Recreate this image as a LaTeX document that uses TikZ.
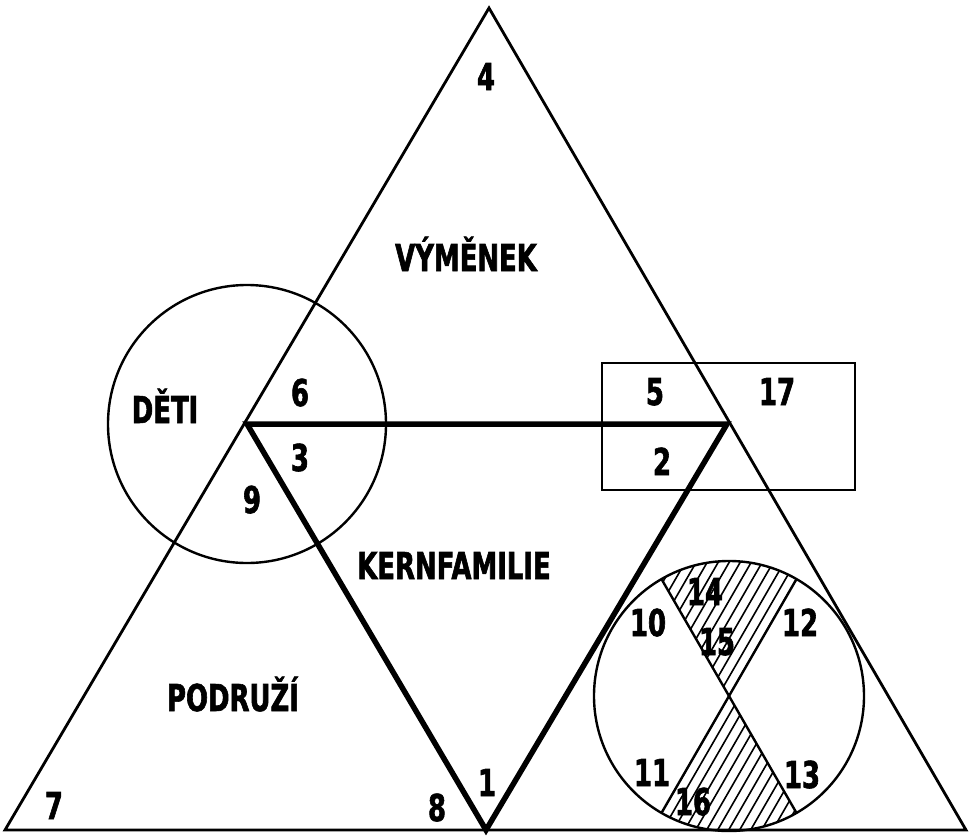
\documentclass[tikz,border=0pt]{standalone}
\usepackage{fontspec}
\newfontfamily\labfont{DejaVu Sans Bold}[FakeStretch=0.7, FakeBold=1.6]
\usetikzlibrary{calc}

\begin{document}
\begin{tikzpicture}[
  x=1pt, y=-1pt,
  thinline/.style={draw=black, line width=2.8pt, line join=miter},
  ringline/.style={draw=black, line width=2.4pt},
  thickline/.style={draw=black, line width=5.5pt, line join=miter},
  hatchline/.style={draw=black, line width=1.6pt},
  lbl/.style={font=\labfont\fontsize{37}{40}\selectfont, inner sep=0pt, text height=26pt, text depth=0pt}
]
  \useasboundingbox (0, 0) rectangle (974, 835);

  % ==================== BIG TRIANGLE ====================
  \coordinate (apex) at (489, 8);
  \coordinate (base_l) at (5, 830);
  \coordinate (base_r) at (966, 830);
  \draw[thinline] (apex) -- (base_l) -- (base_r) -- cycle;

  % Inner (kernfamilie) triangle
  \coordinate (mid_l) at (247, 424);
  \coordinate (mid_r) at (727, 424);
  \coordinate (mid_b) at (486, 830);
  \draw[thickline] (mid_l) -- (mid_r) -- (mid_b) -- cycle;

  % Deti circle
  \draw[ringline] (mid_l) circle[radius=139pt];

  % Box on the right
  \draw[thinline] (602, 363) rectangle (855, 490);

  % ==================== CIRCLE WITH CROSS ====================
  \coordinate (rc) at (729, 696);
  \begin{scope}
    \clip (rc) -- ($(rc)+(60:135pt)$) arc[start angle=60, end angle=120, radius=135pt] -- cycle;
    \foreach \k in {-14,...,14}
      \draw[hatchline] ([xshift=\k*11pt]rc) ++(240:170pt) -- ++(60:340pt);
  \end{scope}
  \begin{scope}
    \clip (rc) -- ($(rc)+(240:135pt)$) arc[start angle=240, end angle=300, radius=135pt] -- cycle;
    \foreach \k in {-14,...,14}
      \draw[hatchline] ([xshift=\k*11pt]rc) ++(240:170pt) -- ++(60:340pt);
  \end{scope}
  \draw[ringline] ($(rc)+(120:135pt)$) -- ($(rc)+(300:135pt)$);
  \draw[ringline] ($(rc)+(60:135pt)$) -- ($(rc)+(240:135pt)$);
  \draw[ringline] (rc) circle[radius=135pt];

  % ==================== LABELS ====================
  \node[lbl] (vymenek) at (466, 258) {VÝMĚNEK};
  \node[lbl] (deti) at (165, 410) {DĚTI};
  \node[lbl] (kern) at (454, 566) {KERNFAMILIE};
  \node[lbl] (podruzi) at (233, 698) {PODRUŽÍ};

  \node[lbl] (n4) at (486, 77) {4};
  \node[lbl] (n6) at (300, 393) {6};
  \node[lbl] (n3) at (300, 458) {3};
  \node[lbl] (n9) at (252, 500) {9};
  \node[lbl] (n5) at (655, 392) {5};
  \node[lbl] (n17) at (777, 392) {17};
  \node[lbl] (n2) at (662, 462) {2};
  \node[lbl] (n10) at (648, 623) {10};
  \node[lbl] (n12) at (800, 623) {12};
  \node[lbl] (n14) at (705, 592) {14};
  \node[lbl] (n15) at (717, 642) {15};
  \node[lbl] (n11) at (652, 773) {11};
  \node[lbl] (n13) at (802, 775) {13};
  \node[lbl] (n16) at (693, 802) {16};
  \node[lbl] (n7) at (54, 806) {7};
  \node[lbl] (n8) at (437, 808) {8};
  \node[lbl] (n1) at (487, 783) {1};

\end{tikzpicture}
\end{document}
